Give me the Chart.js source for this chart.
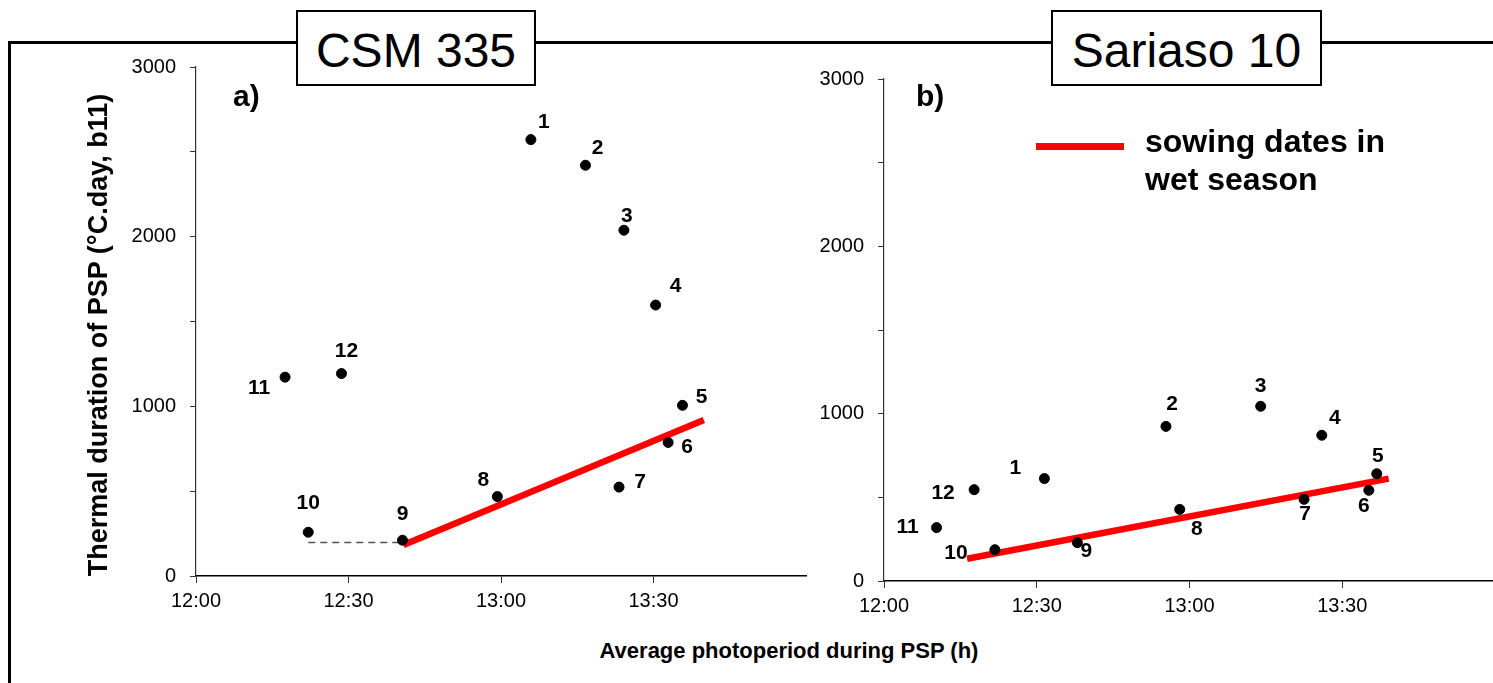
<!DOCTYPE html>
<html>
<head>
<meta charset="utf-8">
<script src="https://cdn.jsdelivr.net/npm/chart.js@4.4.1/dist/chart.umd.min.js"></script>
<style>
  html, body { margin: 0; padding: 0; background: #fff; overflow: hidden; }
  body { width: 1493px; height: 683px; position: relative; font-family: "Liberation Sans", Arial, sans-serif; color: #000; }
  .pane { position: absolute; }
  .frameTop  { position: absolute; left: 8px; top: 41px; width: 1490px; height: 3px; background: #000; }
  .frameLeft { position: absolute; left: 8px; top: 41px; width: 3px; height: 660px; background: #000; }
  .box { position: absolute; top: 10px; height: 76px; border: 2px solid #000; background: #fff;
         font-size: 48px; line-height: 78px; text-align: center; box-sizing: border-box; }
  .panelTag { position: absolute; top: 81px; font: bold 30px/30px "Liberation Sans", Arial, sans-serif; }
  .yTitle { position: absolute; left: -202px; top: 320px; width: 600px; height: 30px; line-height: 30px;
            text-align: center; font-weight: bold; font-size: 27px; transform: rotate(-90deg); }
  .xTitle { position: absolute; left: 489px; top: 638px; width: 600px; text-align: center;
            font-weight: bold; font-size: 22px; line-height: 26px; }
  .legLine { position: absolute; left: 1036px; top: 143px; width: 88px; height: 7px; background: #ff0000; }
  .legText { position: absolute; left: 1145px; top: 122px; font: bold 32px/38px "Liberation Sans", Arial, sans-serif; }
</style>
</head>
<body>

<div class="frameTop"></div>
<div class="frameLeft"></div>

<div class="pane" id="wrapA" style="left:96px; top:41px; width:716px; height:585px;"><canvas id="chartA"></canvas></div>
<div class="pane" id="wrapB" style="left:784px; top:53px; width:717px; height:578px;"><canvas id="chartB"></canvas></div>

<div class="box" style="left:296px; width:240px;">CSM 335</div>
<div class="box" style="left:1051px; width:271px;">Sariaso 10</div>

<div class="panelTag" style="left:233px;">a)</div>
<div class="panelTag" style="left:916px;">b)</div>

<div class="legLine"></div>
<div class="legText">sowing dates in<br>wet season</div>

<div class="yTitle">Thermal duration of PSP (°C.day, b11)</div>
<div class="xTitle">Average photoperiod during PSP (h)</div>

<script>
/* ── data (x = average photoperiod in decimal hours, y = °C.day) ── */
const sowingNames = ['1','2','3','4','5','6','7','8','9','10','11','12'];

// a) CSM 335
const csmPhoto   = [13.098, 13.277, 13.403, 13.507, 13.595, 13.548, 13.387, 12.988, 12.677, 12.368, 12.292, 12.477];
const csmThermal = [2572, 2421, 2038, 1597, 1006, 787, 524, 468, 211, 258, 1172, 1193];
const csmWetX    = [12.680, 13.665];
const csmWetY    = [183, 920];
const csmFitX    = [12.368, 12.677, 13.575];
const csmFitY    = [197, 197, 850];

// b) Sariaso 10
const sarPhoto   = [12.525, 12.923, 13.233, 13.433, 13.613, 13.587, 13.375, 12.968, 12.633, 12.363, 12.172, 12.295];
const sarThermal = [612, 924, 1044, 871, 641, 542, 488, 428, 229, 187, 319, 546];
const sarWetX    = [12.272, 13.652];
const sarWetY    = [133, 612];

// axes
const xMin = 12, xMax = 14, xStep = 0.5;
const yMin = 0,  yMax = 3000, yStep = 500, yLabelEvery = 1000;

/* label offsets in px (style, not data) */
const csmLabelOffsets = [[13,-17],[12,-17],[3,-14],[20,-19],[19,-8],[19,5],[21,-5],[-14,-16],[0,-26],[0,-29],[-26,11],[5,-22]];
const sarLabelOffsets = [[-29,-10],[6,-22],[0,-20],[13,-17],[1,-18],[-5,16],[1,15],[17,20],[9,9],[-39,3],[-29,0],[-31,4]];

const FONT = '"Liberation Sans", Arial, sans-serif';

function pts(xs, ys) { return xs.map((x, i) => ({ x, y: ys[i] })); }

function hhmm(v) {
  const h = Math.floor(v + 1e-9);
  const m = Math.round((v - h) * 60);
  return h + ':' + String(m).padStart(2, '0');
}

/* ───────── point labels plugin ───────── */
const pointLabels = {
  id: 'pointLabels',
  afterDatasetsDraw(chart, args, opts) {
    const meta = chart.getDatasetMeta(0);
    const ctx = chart.ctx;
    ctx.save();
    ctx.font = 'bold 21px ' + FONT;
    ctx.fillStyle = '#000';
    ctx.textAlign = 'center';
    ctx.textBaseline = 'middle';
    meta.data.forEach((el, i) => {
      const off = opts.offsets[i] || [0, 0];
      ctx.fillText(opts.names[i], el.x + off[0], el.y + off[1]);
    });
    ctx.restore();
  }
};

function makeChart(id, photo, thermal, wetX, wetY, offsets, fit) {
  const datasets = [
    {
      type: 'scatter',
      data: pts(photo, thermal),
      backgroundColor: '#000',
      borderColor: '#000',
      pointRadius: 5,
      pointHoverRadius: 5,
      order: 0
    },
    {
      type: 'line',
      data: pts(wetX, wetY),
      borderColor: '#ff0000',
      borderWidth: 6.5,
      pointRadius: 0,
      fill: false,
      order: 1
    }
  ];
  if (fit) {
    datasets.push({
      type: 'line',
      data: pts(fit.x, fit.y),
      borderColor: '#555',
      borderWidth: 1.5,
      borderDash: [7, 5],
      pointRadius: 0,
      fill: false,
      order: 2
    });
  }

  return new Chart(document.getElementById(id), {
    type: 'scatter',
    data: { datasets },
    options: {
      responsive: true,
      maintainAspectRatio: false,
      animation: false,
      events: [],
      layout: { padding: { top: 14, right: 0, bottom: 0, left: 0 } },
      plugins: {
        legend: { display: false },
        tooltip: { enabled: false },
        pointLabels: { names: sowingNames, offsets }
      },
      scales: {
        x: {
          type: 'linear',
          min: xMin, max: xMax,
          afterFit(s) { s.height = 50; },
          border: { display: true, color: '#000', width: 1.5 },
          grid: {
            drawOnChartArea: false, drawTicks: true, tickLength: 7,
            color: ctx => (ctx.tick && ctx.tick.value >= xMax) ? 'rgba(0,0,0,0)' : '#333'
          },
          ticks: {
            stepSize: xStep, padding: 6, color: '#000', maxRotation: 0,
            font: { family: FONT, size: 20 },
            callback: v => v >= xMax ? '' : hhmm(v)
          }
        },
        y: {
          type: 'linear',
          min: yMin, max: yMax,
          afterFit(s) { s.width = 100; },
          border: { display: true, color: '#333', width: 1.2 },
          grid: { drawOnChartArea: false, drawTicks: true, tickLength: 6, color: '#333' },
          ticks: {
            stepSize: yStep, padding: 14, color: '#000',
            font: { family: FONT, size: 20 },
            callback: v => (v % yLabelEvery === 0) ? v : ''
          }
        }
      }
    },
    plugins: [pointLabels]
  });
}

makeChart('chartA', csmPhoto, csmThermal, csmWetX, csmWetY, csmLabelOffsets, { x: csmFitX, y: csmFitY });
makeChart('chartB', sarPhoto, sarThermal, sarWetX, sarWetY, sarLabelOffsets, null);
</script>
</body>
</html>
